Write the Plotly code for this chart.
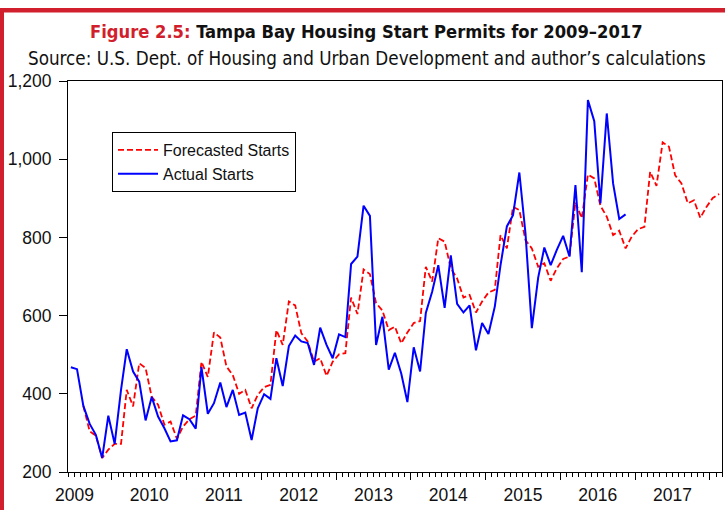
import pandas as pd
import plotly.graph_objects as go

# ---- data (monthly, first observation June 2009) ----
start_month = "2009-06-01"
actual_starts = [
    468, 463, 369, 323, 295, 236, 344, 272, 410, 514,
    457, 431, 332, 392, 342, 312, 278, 281, 345, 335,
    311, 468, 349, 376, 429, 366, 410, 346, 352, 282,
    363, 399, 387, 491, 420, 522, 549, 534, 530, 474,
    569, 525, 491, 552, 545, 732, 751, 881, 855, 525,
    597, 462, 505, 452, 379, 519, 457, 607, 661, 729,
    620, 754, 630, 608, 626, 511, 581, 553, 623, 729,
    828, 857, 966, 810, 568, 697, 774, 729, 768, 804,
    751, 934, 711, 1151, 1097, 887, 1117, 938, 847, 859,
]
forecast_offset = 2  # forecast begins two months after the first actual
forecasted_starts = [
    369, 304, 293, 236, 257, 272, 272, 410, 368, 478,
    466, 392, 372, 321, 329, 285, 316, 335, 344, 482,
    443, 557, 544, 470, 448, 400, 410, 363, 397, 417,
    423, 563, 525, 636, 626, 555, 534, 482, 491, 446,
    482, 501, 504, 646, 604, 718, 706, 632, 613, 563,
    572, 529, 557, 581, 586, 725, 687, 798, 789, 721,
    695, 646, 653, 608, 636, 659, 666, 806, 772, 878,
    870, 793, 772, 725, 734, 689, 721, 745, 751, 890,
    849, 961, 951, 881, 853, 806, 817, 772, 802, 821,
    827, 968, 932, 1043, 1032, 959, 938, 887, 895, 850,
    878, 901, 911,
]
y_ticks = [200, 400, 600, 800, 1000, 1200]

n_total = forecast_offset + len(forecasted_starts)
months = pd.date_range(start_month, periods=n_total, freq="MS") + pd.Timedelta(days=14)
actual_dates = months[:len(actual_starts)]
forecast_dates = months[forecast_offset:]

# ---- layout geometry (pixels) ----
W, H = 725, 510
ML, MR, MT, MB = 68, 3, 81, 38
PW, PH = W - ML - MR, H - MT - MB


def px(x):
    return (x - ML) / PW


def py(y):
    return (H - MB - y) / PH


RED = "#d21f2d"
TICKFONT = dict(family="Liberation Sans, Arial, sans-serif", size=17.5, color="#111")
LEGFONT = dict(family="Liberation Sans, Arial, sans-serif", size=16, color="#111")
COND = "DejaVu Sans, sans-serif"
STRETCH = "font-stretch:condensed"

fig = go.Figure()
fig.add_trace(go.Scatter(
    x=forecast_dates, y=forecasted_starts, mode="lines", name="Forecasted Starts",
    line=dict(color="#ff0000", width=1.8, dash="6px,3px"),
))
fig.add_trace(go.Scatter(
    x=actual_dates, y=actual_starts, mode="lines", name="Actual Starts",
    line=dict(color="#0000ff", width=2),
))

fig.update_layout(
    width=W, height=H,
    margin=dict(l=ML, r=MR, t=MT, b=MB, autoexpand=False),
    paper_bgcolor="white", plot_bgcolor="white",
    showlegend=True,
    legend=dict(
        x=px(112), y=py(132), xanchor="left", yanchor="top",
        bordercolor="black", borderwidth=1, bgcolor="white",
        font=LEGFONT, itemwidth=40, tracegroupgap=0,
    ),
    xaxis=dict(
        type="date",
        range=["2009-06-01", "2018-03-01"],
        tick0="2010-01-01", dtick="M12",
        ticklabelmode="period", tickformat="%Y",
        ticks="outside", ticklen=7, tickwidth=1, tickcolor="black",
        minor=dict(dtick="M1", tick0="2010-01-01", ticks="outside", ticklen=4,
                   tickwidth=1, tickcolor="black", showgrid=False),
        showgrid=False, zeroline=False,
        showline=True, linecolor="black", linewidth=1, mirror=True,
        tickfont=TICKFONT, ticklabelstandoff=0, automargin=False,
    ),
    yaxis=dict(
        range=[200, 1200], tickvals=y_ticks, tickformat=",",
        ticks="outside", ticklen=8, tickwidth=1, tickcolor="black",
        showgrid=False, zeroline=False,
        showline=True, linecolor="black", linewidth=1, mirror=True,
        tickfont=TICKFONT, ticklabelstandoff=4, automargin=False,
    ),
    annotations=[
        dict(
            xref="paper", yref="paper", x=px(366), y=py(32),
            xanchor="center", yanchor="middle", showarrow=False,
            text=(f"<span style='{STRETCH}'><b><span style='color:{RED};{STRETCH}'>Figure 2.5:</span>"
                  " Tampa Bay Housing Start Permits for 2009–2017</b></span>"),
            font=dict(family=COND, size=18.2, color="#111"),
        ),
        dict(
            xref="paper", yref="paper", x=px(367), y=py(58),
            xanchor="center", yanchor="middle", showarrow=False,
            text=(f"<span style='{STRETCH}'>Source: U.S. Dept. of Housing and Urban Development"
                  " and author’s calculations</span>"),
            font=dict(family=COND, size=18.7, color="#111"),
        ),
    ],
    shapes=[
        dict(type="rect", xref="paper", yref="paper", x0=px(0), x1=px(4), y0=py(8), y1=py(H + 5),
             fillcolor=RED, line=dict(width=0), layer="above"),
        dict(type="rect", xref="paper", yref="paper", x0=px(0), x1=px(W + 5), y0=py(8), y1=py(12.5),
             fillcolor=RED, line=dict(width=0), layer="above"),
    ],
)

fig.write_html("out.html", config={"displayModeBar": False},
               post_script="document.body.style.margin='0px';")
